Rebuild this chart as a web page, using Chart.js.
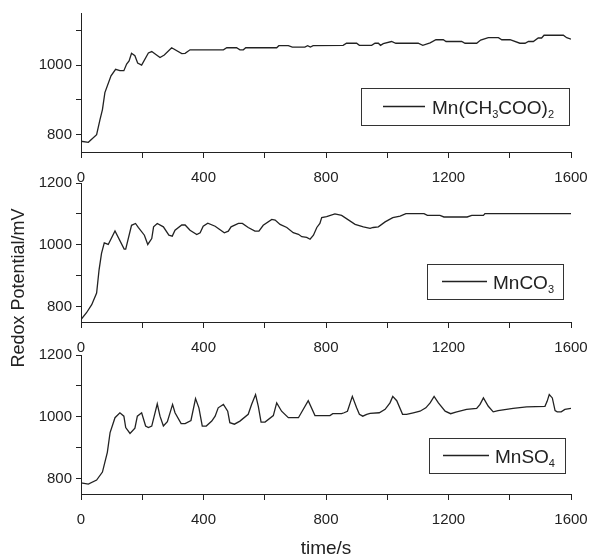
<!DOCTYPE html>
<html>
<head>
<meta charset="utf-8">
<script src="https://cdn.jsdelivr.net/npm/chart.js@4.4.0/dist/chart.umd.min.js"></script>
<style>
    html, body { margin: 0; padding: 0; background: #fff; }
    #wrap { position: relative; width: 592px; height: 560px; overflow: hidden; }
    .panel { position: absolute; left: 0; width: 592px; }
</style>
</head>
<body>
<div id="wrap">
    <div class="panel" style="top:0px;height:190px"><canvas id="p1"></canvas></div>
    <div class="panel" style="top:170px;height:205px"><canvas id="p2"></canvas></div>
    <div class="panel" style="top:342px;height:218px"><canvas id="p3"></canvas></div>
</div>
<script>
// tick values
const xTicks = [0, 200, 400, 600, 800, 1000, 1200, 1400, 1600];
const yTicksTop = [800, 900, 1000, 1100];
const yTicks = [800, 900, 1000, 1100, 1200];

// Mn(CH3COO)2
const timeAc = [0, 24, 51, 62, 70, 78, 98, 113, 127, 140, 149, 157, 165, 176, 185, 198, 220, 231, 258, 272,
    296, 329, 340, 356, 465, 476, 508, 519, 530, 538, 639, 646, 677, 690, 731, 740, 749, 758, 856, 867,
    900, 909, 949, 960, 971, 978, 987, 1014, 1028, 1101, 1116, 1140, 1159, 1183, 1192, 1243, 1254, 1292,
    1305, 1330, 1363, 1374, 1401, 1433, 1450, 1461, 1477, 1493, 1504, 1512, 1575, 1586, 1600];
const potAc = [781, 778, 800, 843, 872, 921, 969, 988, 984, 984, 1003, 1012, 1034, 1027, 1006, 1000, 1035, 1039, 1022, 1029,
    1050, 1033, 1034, 1044, 1044, 1050, 1050, 1044, 1044, 1050, 1050, 1056, 1056, 1052, 1052, 1056, 1052, 1056, 1057, 1063,
    1063, 1057, 1057, 1063, 1063, 1057, 1062, 1068, 1063, 1063, 1057, 1064, 1073, 1073, 1068, 1068, 1063, 1063,
    1072, 1079, 1079, 1073, 1073, 1063, 1063, 1068, 1068, 1078, 1078, 1086, 1086, 1079, 1075];

// MnCO3
const timeCo = [0, 18, 35, 51, 59, 67, 76, 89, 111, 141, 146, 165, 178, 187, 207, 218, 231, 237, 249, 269,
    287, 298, 307, 329, 340, 356, 378, 389, 399, 414, 438, 468, 481, 490, 514, 527, 546, 568, 581, 595,
    623, 634, 650, 672, 693, 710, 721, 737, 748, 759, 770, 780, 786, 802, 829, 851, 895, 922, 944, 954,
    971, 993, 1018, 1042, 1061, 1120, 1131, 1172, 1185, 1261, 1276, 1314, 1319, 1600];
const potCo = [758, 780, 806, 844, 919, 972, 1006, 1001, 1045, 986, 986, 1063, 1069, 1056, 1031, 1001, 1020, 1058, 1069, 1058,
    1031, 1028, 1047, 1064, 1064, 1047, 1033, 1039, 1060, 1070, 1060, 1039, 1044, 1058, 1069, 1069, 1056, 1044, 1044, 1063,
    1082, 1080, 1066, 1056, 1039, 1034, 1026, 1024, 1018, 1031, 1056, 1069, 1088, 1091, 1100, 1095, 1066, 1058, 1053, 1056,
    1058, 1074, 1088, 1093, 1101, 1101, 1095, 1095, 1090, 1090, 1095, 1095, 1101, 1101];

// MnSO4
const timeSo = [0, 24, 51, 70, 86, 95, 111, 127, 140, 146, 160, 176, 184, 198, 211, 220, 231, 249, 258, 269,
    282, 299, 307, 327, 340, 359, 374, 385, 396, 409, 427, 438, 448, 465, 479, 486, 501, 519, 546, 557,
    570, 579, 588, 601, 628, 639, 655, 677, 710, 742, 764, 813, 822, 851, 859, 870, 886, 900, 909, 920,
    933, 944, 974, 993, 1009, 1018, 1031, 1050, 1063, 1085, 1107, 1126, 1140, 1153, 1167, 1189, 1207, 1224,
    1259, 1292, 1303, 1314, 1330, 1346, 1362, 1411, 1455, 1515, 1522, 1529, 1539, 1548, 1555, 1568, 1580, 1600];
const potSo = [786, 782, 795, 821, 885, 949, 997, 1013, 1002, 965, 946, 963, 1002, 1013, 970, 965, 970, 1042, 1002, 970,
    984, 1040, 1013, 978, 978, 988, 1059, 1029, 970, 970, 986, 1002, 1029, 1040, 1018, 981, 976, 986, 1008, 1040,
    1072, 1034, 983, 983, 1004, 1045, 1018, 997, 997, 1052, 1004, 1004, 1010, 1010, 1013, 1018, 1066, 1029, 1008, 1002,
    1008, 1011, 1013, 1024, 1045, 1066, 1052, 1008, 1008, 1013, 1018, 1029, 1045, 1066, 1045, 1018, 1010, 1015,
    1024, 1027, 1040, 1061, 1034, 1016, 1020, 1027, 1032, 1034, 1050, 1072, 1061, 1020, 1016, 1016, 1024, 1027];

const FONT = '"Liberation Sans", Arial, sans-serif';
const INK = '#222';
Chart.defaults.font.family = FONT;
Chart.defaults.color = INK;

// legend box with subscripts + shared y title, drawn on the canvas
const subLegend = {
    id: 'subLegend',
    afterDraw(chart, args, opts) {
        const ctx = chart.ctx;
        const b = opts.box;
        ctx.save();
        ctx.strokeStyle = '#333';
        ctx.lineWidth = 1;
        ctx.strokeRect(b[0] + 0.5, b[1] + 0.5, b[2], b[3]);
        const cy = b[1] + b[3] / 2;
        ctx.strokeStyle = INK;
        ctx.lineWidth = 1.3;
        ctx.beginPath();
        ctx.moveTo(opts.line[0], cy);
        ctx.lineTo(opts.line[1], cy);
        ctx.stroke();
        ctx.fillStyle = INK;
        ctx.textBaseline = 'alphabetic';
        let x = opts.textX;
        const base = cy + 7;
        opts.parts.forEach(p => {
            ctx.font = (p.sub ? '11px ' : '19px ') + FONT;
            ctx.fillText(p.t, x, p.sub ? base + 4 : base);
            x += ctx.measureText(p.t).width;
        });

        if (opts.sideTitle) {
            ctx.translate(opts.sideTitle.x, opts.sideTitle.y);
            ctx.rotate(-Math.PI / 2);
            ctx.font = '18px ' + FONT;
            ctx.textAlign = 'center';
            ctx.textBaseline = 'middle';
            ctx.fillText(opts.sideTitle.text, 0, 0);
        }
        ctx.restore();
    }
};

function makePanel(id, times, pots, yMax, yTickList, legend, xTitle, canvasH) {
    const points = times.map((t, i) => ({ x: t, y: pots[i] }));
    return new Chart(document.getElementById(id), {
        type: 'line',
        data: {
            datasets: [{
                data: points,
                borderColor: INK,
                borderWidth: 1.3,
                pointRadius: 0,
                tension: 0,
                fill: false
            }]
        },
        plugins: [subLegend],
        options: {
            responsive: true,
            maintainAspectRatio: false,
            animation: false,
            events: [],
            layout: { padding: { top: 13, right: 21, left: 0, bottom: 0 } },
            plugins: {
                legend: { display: false },
                tooltip: { enabled: false },
                subLegend: legend
            },
            scales: {
                x: {
                    type: 'linear',
                    min: 0,
                    max: 1600,
                    afterBuildTicks: s => { s.ticks = xTicks.map(v => ({ value: v })); },
                    afterFit: s => {
                        s.height = canvasH - 152;
                        s.paddingLeft = 0;
                        s.paddingRight = 0;
                    },
                    grid: { drawOnChartArea: false, tickLength: 6, color: INK },
                    border: { color: INK, width: 1 },
                    ticks: {
                        autoSkip: false, maxRotation: 0, padding: 11,
                        font: { size: 15 }, color: INK,
                        callback: v => (v % 400 === 0 ? v : '')
                    },
                    title: {
                        display: !!xTitle, text: xTitle || '',
                        font: { size: 19 }, color: INK,
                        padding: { top: 0, bottom: 0 }
                    }
                },
                y: {
                    min: 750,
                    max: yMax,
                    afterBuildTicks: s => { s.ticks = yTickList.map(v => ({ value: v })); },
                    afterFit: s => { s.width = 81; },
                    grid: { drawOnChartArea: false, tickLength: 5, color: INK },
                    border: { color: INK, width: 1 },
                    ticks: {
                        padding: 4, font: { size: 15 }, color: INK,
                        callback: v => (v % 200 === 0 ? v : '')
                    }
                }
            }
        }
    });
}

makePanel('p1', timeAc, potAc, 1150, yTicksTop, {
    box: [361, 88, 208, 37], line: [383, 425], textX: 432,
    parts: [{ t: 'Mn(CH' }, { t: '3', sub: true }, { t: 'COO)' }, { t: '2', sub: true }]
}, null, 190);

makePanel('p2', timeCo, potCo, 1200, yTicks, {
    box: [427, 94, 136, 35], line: [442, 487], textX: 493,
    parts: [{ t: 'MnCO' }, { t: '3', sub: true }],
    sideTitle: { text: 'Redox Potential/mV', x: 19, y: 118 }
}, null, 205);

makePanel('p3', timeSo, potSo, 1200, yTicks, {
    box: [429, 96, 136, 35], line: [443, 489], textX: 495,
    parts: [{ t: 'MnSO' }, { t: '4', sub: true }]
}, 'time/s', 218);
</script>
</body>
</html>
